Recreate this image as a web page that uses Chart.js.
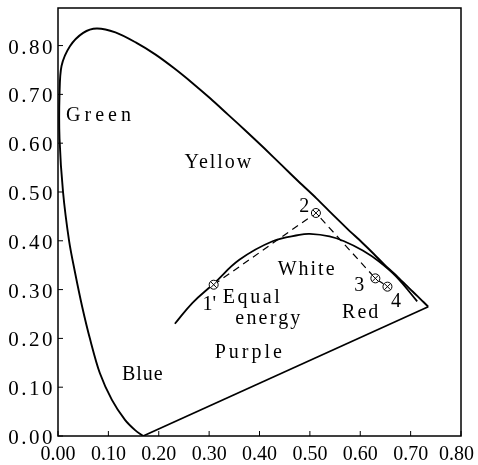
<!DOCTYPE html>
<html>
<head>
<meta charset="utf-8">
<script src="https://cdn.jsdelivr.net/npm/chart.js@4/dist/chart.umd.min.js"></script>
<style>
  body { margin: 0; background: #fff; }
</style>
</head>
<body>
<canvas id="chromaChart" width="478" height="465"></canvas>
<script>
// spectrum locus
const locusX = [0.169, 0.153, 0.133, 0.107, 0.083, 0.064, 0.048, 0.034, 0.022, 0.010, 0.003, 0.003, 0.007, 0.024, 0.050, 0.077, 0.114, 0.155, 0.193, 0.230, 0.266, 0.302, 0.337, 0.373, 0.409, 0.444, 0.479, 0.513, 0.545, 0.575, 0.603, 0.627, 0.648, 0.666, 0.680, 0.692, 0.701, 0.708, 0.719, 0.726, 0.730, 0.735];
const locusY = [0.000, 0.012, 0.033, 0.074, 0.129, 0.197, 0.265, 0.334, 0.400, 0.500, 0.610, 0.700, 0.758, 0.799, 0.826, 0.835, 0.827, 0.806, 0.782, 0.754, 0.724, 0.692, 0.659, 0.625, 0.590, 0.555, 0.520, 0.487, 0.454, 0.424, 0.397, 0.373, 0.351, 0.334, 0.320, 0.308, 0.299, 0.292, 0.281, 0.274, 0.270, 0.265];

// purple line, red end back to the violet end
const purpleX = [0.735, 0.169];
const purpleY = [0.265, 0.000];

// white (black body) curve
const whiteX = [0.232, 0.267, 0.309, 0.360, 0.426, 0.479, 0.500, 0.539, 0.568, 0.605, 0.638, 0.671, 0.713];
const whiteY = [0.230, 0.273, 0.312, 0.361, 0.399, 0.412, 0.414, 0.409, 0.399, 0.380, 0.357, 0.327, 0.276];

// measured points 1', 2, 3, 4
const pointX = [0.309, 0.512, 0.630, 0.654];
const pointY = [0.310, 0.457, 0.323, 0.306];

const xTicks = [0.0, 0.1, 0.2, 0.3, 0.4, 0.5, 0.6, 0.7, 0.8];
const yTicks = [0.0, 0.1, 0.2, 0.3, 0.4, 0.5, 0.6, 0.7, 0.8];

const toXY = (xs, ys) => xs.map((v, i) => ({x: v, y: ys[i]}));

// text written on the diagram (anchored at left end of baseline, data units)
const notes = [
    {text: 'Green',  x: 0.016, y: 0.646, gap: 4},
    {text: 'Yellow', x: 0.251, y: 0.550, gap: 2},
    {text: 'White',  x: 0.436, y: 0.330, gap: 2},
    {text: 'Equal',  x: 0.327, y: 0.273, gap: 2.6},
    {text: 'energy', x: 0.352, y: 0.230, gap: 2.2},
    {text: 'Blue',   x: 0.127, y: 0.115, gap: 1},
    {text: 'Purple', x: 0.311, y: 0.160, gap: 3},
    {text: 'Red',    x: 0.564, y: 0.242, gap: 2},
    {text: "1'",     x: 0.287, y: 0.258, gap: 0},
    {text: '2',      x: 0.479, y: 0.459, gap: 0},
    {text: '3',      x: 0.588, y: 0.297, gap: 0},
    {text: '4',      x: 0.661, y: 0.265, gap: 0}
];

const SERIF = '"Liberation Serif", "DejaVu Serif", serif';

const frame = {
    id: 'frame',
    afterDraw(chart) {
        const {ctx, chartArea: a, scales: {x, y}} = chart;
        ctx.save();
        ctx.strokeStyle = '#000';
        ctx.fillStyle = '#000';
        ctx.lineWidth = 1.5;
        ctx.strokeRect(a.left, a.top, a.right - a.left, a.bottom - a.top);

        // short ticks pointing inwards
        ctx.lineWidth = 1;
        ctx.beginPath();
        x.ticks.forEach(t => {
            const px = x.getPixelForValue(t.value);
            ctx.moveTo(px, a.bottom);
            ctx.lineTo(px, a.bottom - 5);
        });
        y.ticks.forEach(t => {
            const py = y.getPixelForValue(t.value);
            ctx.moveTo(a.left, py);
            ctx.lineTo(a.left + 5, py);
        });
        ctx.stroke();

        // tick labels
        ctx.textBaseline = 'alphabetic';
        ctx.font = '20px ' + SERIF;
        ctx.textAlign = 'center';
        x.ticks.forEach(t => {
            let px = x.getPixelForValue(t.value);
            const w = ctx.measureText(t.label).width;
            px = Math.min(px, chart.width - 4 - w / 2);
            ctx.fillText(t.label, px, a.bottom + 24);
        });
        ctx.font = '21px ' + SERIF;
        ctx.letterSpacing = '2.5px';
        ctx.textAlign = 'right';
        y.ticks.forEach(t => {
            const py = y.getPixelForValue(t.value);
            ctx.fillText(t.label, a.left - 3, py + 8);
        });

        // region names and point numbers
        ctx.textAlign = 'left';
        ctx.font = '20px ' + SERIF;
        notes.forEach(n => {
            ctx.letterSpacing = n.gap + 'px';
            ctx.fillText(n.text, x.getPixelForValue(n.x), y.getPixelForValue(n.y));
        });
        ctx.restore();
    }
};

window.onload = function () {
    const ctx = document.getElementById('chromaChart').getContext('2d');
    // first dataset ends up on top, so the crosses go before the circles
    window.chromaChart = new Chart(ctx, {
        type: 'scatter',
        data: {
            datasets: [
                {
                    label: 'marks',
                    data: toXY(pointX, pointY),
                    showLine: false,
                    pointRadius: 4.5,
                    pointStyle: 'crossRot',
                    pointBorderColor: '#000',
                    pointBorderWidth: 1
                },
                {
                    label: 'path',
                    data: toXY(pointX, pointY),
                    showLine: true,
                    borderColor: '#000',
                    borderWidth: 1.2,
                    borderDash: [7, 5],
                    pointRadius: 4.5,
                    pointStyle: 'circle',
                    pointBackgroundColor: '#fff',
                    pointBorderColor: '#000',
                    pointBorderWidth: 1
                },
                {
                    label: 'spectrum locus',
                    data: toXY(locusX, locusY),
                    showLine: true,
                    borderColor: '#000',
                    borderWidth: 1.9,
                    pointRadius: 0,
                    tension: 0.3
                },
                {
                    label: 'purple line',
                    data: toXY(purpleX, purpleY),
                    showLine: true,
                    borderColor: '#000',
                    borderWidth: 1.7,
                    pointRadius: 0
                },
                {
                    label: 'white',
                    data: toXY(whiteX, whiteY),
                    showLine: true,
                    borderColor: '#000',
                    borderWidth: 1.8,
                    pointRadius: 0,
                    tension: 0.4
                }
            ]
        },
        options: {
            responsive: false,
            animation: false,
            devicePixelRatio: 1,
            layout: {padding: {top: 8, right: 17, left: 0, bottom: 0}},
            plugins: {legend: {display: false}, tooltip: {enabled: false}},
            scales: {
                x: {
                    type: 'linear', min: 0, max: 0.8,
                    afterBuildTicks: s => { s.ticks = xTicks.map(v => ({value: v})); },
                    ticks: {display: false, callback: v => v.toFixed(2)},
                    grid: {display: false},
                    border: {display: false},
                    afterFit: s => { s.height = 29; }
                },
                y: {
                    type: 'linear', min: 0, max: 0.877,
                    afterBuildTicks: s => { s.ticks = yTicks.map(v => ({value: v})); },
                    ticks: {display: false, callback: v => v.toFixed(2)},
                    grid: {display: false},
                    border: {display: false},
                    afterFit: s => { s.width = 58; }
                }
            }
        },
        plugins: [frame]
    });
};
</script>
</body>
</html>
